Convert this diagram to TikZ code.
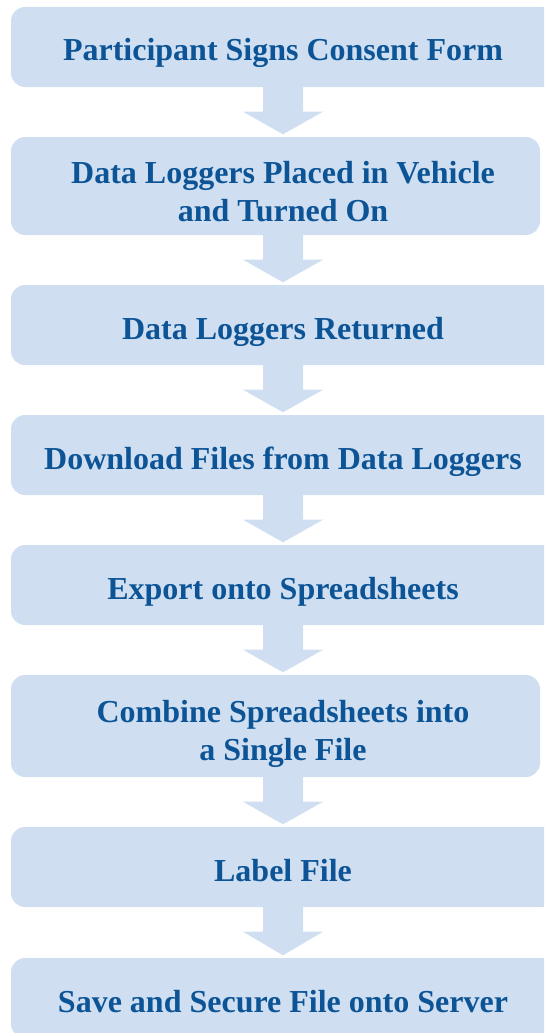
\documentclass[tikz,border=0pt]{standalone}
\usepackage{fontspec}
\setmainfont{Liberation Serif}
\usetikzlibrary{calc}
\definecolor{boxfill}{RGB}{207,223,241}
\definecolor{boxtext}{RGB}{12,84,150}
\tikzset{
  stepbox/.style={rectangle, rounded corners=14pt, fill=boxfill, draw=none, inner sep=0pt},
  steptext/.style={text=boxtext, font=\fontsize{32pt}{38pt}\selectfont\bfseries, align=center, inner sep=0pt, anchor=base},
}
\newcommand{\flowarrow}[2]{%
  \fill[boxfill] let \p1=(#1.south), \p2=(#2.north) in
    (263pt,\y1) -- (303pt,\y1) -- (303pt,\y1-24.5pt) -- (323pt,\y1-24.5pt)
    -- (283pt,\y2+2.5pt) -- (243pt,\y1-24.5pt) -- (263pt,\y1-24.5pt) -- cycle;}
\begin{document}
\begin{tikzpicture}[x=1pt,y=-1pt]
\useasboundingbox (0,0) rectangle (544,1033);
\clip (0,0) rectangle (544,1033);
\node[stepbox, minimum width=545pt, minimum height=80pt] (b1) at (283.5,47) {};
\node[stepbox, minimum width=529pt, minimum height=98pt] (b2) at (275.5,186) {};
\node[stepbox, minimum width=545pt, minimum height=80pt] (b3) at (283.5,325) {};
\node[stepbox, minimum width=545pt, minimum height=80pt] (b4) at (283.5,455) {};
\node[stepbox, minimum width=545pt, minimum height=80pt] (b5) at (283.5,585) {};
\node[stepbox, minimum width=529pt, minimum height=102pt] (b6) at (275.5,726) {};
\node[stepbox, minimum width=545pt, minimum height=80pt] (b7) at (283.5,867) {};
\node[stepbox, minimum width=545pt, minimum height=80pt] (b8) at (283.5,998) {};
\flowarrow{b1}{b2}
\flowarrow{b2}{b3}
\flowarrow{b3}{b4}
\flowarrow{b4}{b5}
\flowarrow{b5}{b6}
\flowarrow{b6}{b7}
\flowarrow{b7}{b8}
\node[steptext] (t1) at (283,61) {Participant Signs Consent Form};
\node[steptext] (t2) at (283,221) {Data Loggers Placed in Vehicle\\and Turned On};
\node[steptext] (t3) at (283,339) {Data Loggers Returned};
\node[steptext] (t4) at (283,469) {Download Files from Data Loggers};
\node[steptext] (t5) at (283,599) {Export onto Spreadsheets};
\node[steptext] (t6) at (283,760) {Combine Spreadsheets into\\a Single File};
\node[steptext] (t7) at (283,881) {Label File};
\node[steptext] (t8) at (283,1012) {Save and Secure File onto Server};
\end{tikzpicture}
\end{document}
